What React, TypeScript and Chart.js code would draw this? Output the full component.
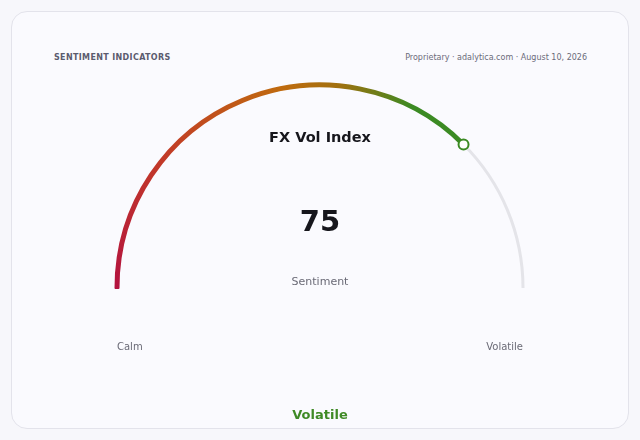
import React, { useRef, useEffect } from 'react';
import { Chart, DoughnutController, ArcElement } from 'chart.js';

Chart.register(DoughnutController, ArcElement);

// gauge data
const gaugeValue = 75;
const gaugeMax = 100;
const gaugeLabels = ['Calm', 'Volatile'];
const gaugeTitle = 'FX Vol Index';
const gaugeCaption = 'Sentiment';
const gaugeStatus = 'Volatile';

const FONT = '"DejaVu Sans", Verdana, sans-serif';
const RADIUS = 204.5;       // px, outer edge of the ring
const GREEN = '#3b8a23';
const CRIMSON = '#b3123f';
const TRACK = '#e4e4e9';

// conic gradient that runs clockwise from the left end of the gauge
function arcGradient(c: any) {
  const chart = c.chart as Chart;
  if (c.dataIndex === 1) return TRACK;
  if (!chart.chartArea) return '#c0700c';
  const a = chart.chartArea;
  const cx = (a.left + a.right) / 2;
  const cy = (a.top + a.bottom) / 2 + RADIUS / 2;
  const g = chart.ctx.createConicGradient(Math.PI, cx, cy);
  g.addColorStop(0, CRIMSON);
  g.addColorStop(0.11, '#c23a28');
  g.addColorStop(0.22, '#bf6a0e');
  g.addColorStop(0.265, '#a0700f');
  g.addColorStop(0.325, GREEN);
  g.addColorStop(0.6, GREEN);
  g.addColorStop(0.9, CRIMSON);
  g.addColorStop(1, CRIMSON);
  return g;
}

function GaugeCard() {
  const ref = useRef<HTMLCanvasElement>(null);
  const chartRef = useRef<Chart | null>(null);

  useEffect(() => {
    const canvas = ref.current;
    if (!canvas) return;
    chartRef.current?.destroy();

    chartRef.current = new Chart(canvas, {
      type: 'doughnut',
      data: {
        labels: ['value', 'rest'],
        datasets: [{
          data: [gaugeValue, gaugeMax - gaugeValue],
          backgroundColor: arcGradient,
          borderColor: (c: any) => (c.dataIndex === 1 ? 'transparent' : arcGradient(c)),
          borderWidth: [2, 0],
          borderJoinStyle: 'round',
          borderAlign: 'center',
        } as any],
      },
      options: {
        responsive: false,
        animation: false,
        rotation: -90,
        circumference: 180,
        radius: RADIUS,
        cutout: ((RADIUS - 3) / RADIUS * 100).toFixed(3) + '%',
        layout: { padding: { top: 0, left: 0, right: 0, bottom: 68.5 } },
        events: [],
        plugins: {
          legend: { display: false },
          tooltip: { enabled: false },
        },
      } as any,
      plugins: [{
        id: 'gaugeDecor',
        afterDatasetsDraw(chart) {
          const { ctx } = chart;
          const arc: any = chart.getDatasetMeta(0).data[0];
          const { x, y, endAngle, innerRadius, outerRadius } = arc.getProps(['x', 'y', 'endAngle', 'innerRadius', 'outerRadius'], true);
          const r = (innerRadius + outerRadius) / 2;

          // marker at the value end
          ctx.save();
          ctx.beginPath();
          ctx.arc(x + Math.cos(endAngle) * r, y + Math.sin(endAngle) * r, 5, 0, Math.PI * 2);
          ctx.fillStyle = '#ffffff';
          ctx.fill();
          ctx.lineWidth = 2;
          ctx.strokeStyle = GREEN;
          ctx.stroke();

          // center texts
          ctx.textAlign = 'center';
          ctx.textBaseline = 'middle';
          ctx.fillStyle = '#16161c';
          ctx.font = `bold 14.5px ${FONT}`;
          ctx.fillText(gaugeTitle, x, y - 150);
          ctx.font = `bold 29px ${FONT}`;
          ctx.fillText(String(gaugeValue), x, y - 65);
          ctx.fillStyle = '#6a6a76';
          ctx.font = `11px ${FONT}`;
          ctx.fillText(gaugeCaption, x, y - 6);

          // range labels
          ctx.font = `10px ${FONT}`;
          ctx.textAlign = 'left';
          ctx.fillText(gaugeLabels[0], x - r, y + 59);
          ctx.textAlign = 'right';
          ctx.fillText(gaugeLabels[1], x + r, y + 59);
          ctx.restore();
        },
      }],
    });

    return () => { chartRef.current?.destroy(); };
  }, []);

  return (
    <div style={{ position: 'fixed', inset: 0, background: '#f7f7fb', fontFamily: FONT }}>
      <div style={{
        position: 'absolute', left: 11, top: 11, width: 618, height: 418, boxSizing: 'border-box',
        border: '1px solid #e3e3eb', borderRadius: 16, background: '#fafafe',
      }} />
      <div style={{
        position: 'absolute', left: 54, top: 52, lineHeight: '11px', fontSize: 8, fontWeight: 700,
        letterSpacing: 0.35, color: '#5b5b6e',
      }}>SENTIMENT INDICATORS</div>
      <div style={{
        position: 'absolute', right: 53, top: 52, lineHeight: '11px', fontSize: 8, color: '#6b6b7a',
        whiteSpace: 'nowrap',
      }}>Proprietary · adalytica.com · August 10, 2026</div>
      <canvas ref={ref} width={640} height={440} style={{ position: 'absolute', left: 0, top: 0, display: 'block' }} />
      <div style={{
        position: 'absolute', left: 0, width: 640, top: 407, lineHeight: '16px', textAlign: 'center',
        fontSize: 13, fontWeight: 700, color: '#3f8a26',
      }}>{gaugeStatus}</div>
    </div>
  );
}

export default function App() {
  return <GaugeCard />;
}
